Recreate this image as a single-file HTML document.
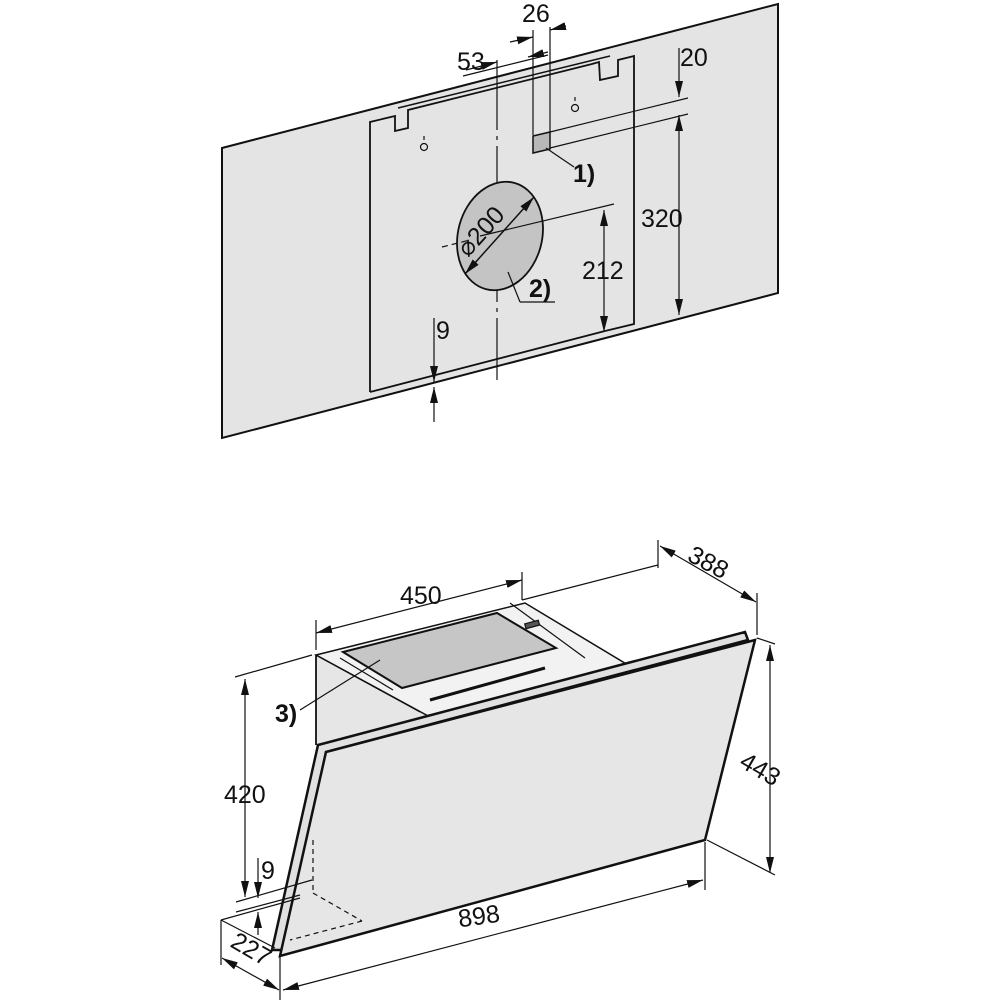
<!DOCTYPE html>
<html><head><style>html,body{margin:0;padding:0;background:#fff}svg{display:block}text{font-family:"Liberation Sans",sans-serif;fill:#111}</style></head>
<body>
<svg width="1000" height="1000" viewBox="0 0 1000 1000" xmlns="http://www.w3.org/2000/svg">
<defs>
<marker id="a" viewBox="0 0 16 10" refX="16" refY="5" markerWidth="16" markerHeight="10" orient="auto-start-reverse" markerUnits="userSpaceOnUse"><path d="M0,1 L16,5 L0,9z" fill="#111"/></marker>
</defs>
<g stroke="#111" fill="none" stroke-width="1.2">
<polygon points="222,148 778,4 778,293 222,438" fill="#e4e4e4" stroke-width="2"/>
<polyline points="370,392 370,122 395,116 395,131 408,128 408,110 592,64 599,62 600,80 618,76 618,60 634,56 634,324 605,331" stroke-width="1.8"/>
<line x1="370" y1="392" x2="605" y2="331" stroke-width="1.8"/>
<line x1="398" y1="108" x2="610" y2="56" stroke-width="1.5"/>
<circle cx="424" cy="147" r="3.5"/><line x1="424" y1="140" x2="424" y2="136"/>
<circle cx="575" cy="108" r="3.5"/><line x1="575" y1="101" x2="575" y2="97"/>
<line x1="497" y1="60" x2="497" y2="380" stroke-dasharray="70,6,4,6"/>
<line x1="463" y1="76" x2="548" y2="55"/>
<line x1="466" y1="70" x2="497" y2="62" marker-end="url(#a)"/>
<line x1="548" y1="52" x2="528" y2="57" marker-end="url(#a)"/>
<line x1="533" y1="30" x2="533" y2="135"/>
<line x1="550" y1="27" x2="550" y2="132"/>
<line x1="510" y1="42" x2="533" y2="37" marker-end="url(#a)"/>
<line x1="566" y1="26" x2="550" y2="30" marker-end="url(#a)"/>
<polygon points="533,136 550,132 550,149 533,153" fill="#b8b8b8" stroke-width="1.5"/>
<line x1="550" y1="132" x2="688" y2="98"/>
<line x1="550" y1="148" x2="688" y2="114"/>
<line x1="546" y1="148" x2="574" y2="167"/>
<line x1="679" y1="48" x2="679" y2="97" marker-end="url(#a)"/>
<line x1="679" y1="115" x2="679" y2="315" marker-start="url(#a)" marker-end="url(#a)"/>
<ellipse cx="500" cy="236" rx="42" ry="55" transform="rotate(15 500 236)" fill="#c4c4c4" stroke-width="1.8"/>
<line x1="465" y1="274" x2="534" y2="197" marker-start="url(#a)" marker-end="url(#a)" stroke-width="1.5"/>
<line x1="442" y1="247" x2="470" y2="240" stroke-dasharray="6,4"/>
<line x1="480" y1="236" x2="614" y2="204"/>
<line x1="508" y1="272" x2="520" y2="302"/><line x1="520" y1="302" x2="555" y2="302"/>
<line x1="604" y1="210" x2="604" y2="332" marker-start="url(#a)" marker-end="url(#a)"/>
<line x1="434" y1="318" x2="434" y2="382" marker-end="url(#a)"/>
<line x1="434" y1="422" x2="434" y2="387" marker-end="url(#a)"/>

<polygon points="316,655 430,718 430,760 316,790" fill="#e6e6e6" stroke="none"/>
<line x1="316" y1="655" x2="316" y2="745" stroke-width="1.8"/>
<polygon points="316,655 525,603 628,665 430,717" fill="#f2f2f2" stroke-width="1.5"/>
<line x1="316" y1="655" x2="420" y2="712"/>
<polygon points="343,652 497,613 556,648 402,688" fill="#c6c6c6" stroke-width="2"/>
<line x1="430" y1="700" x2="545" y2="668" stroke-width="3"/>
<line x1="510" y1="603" x2="585" y2="658"/>
<rect x="525" y="622" width="14" height="5" fill="#555" transform="rotate(-15 532 624)"/>
<line x1="340" y1="658" x2="393" y2="690"/>
<polygon points="318,745 745,632 748,640 326,752 285,950 272,950" fill="#e0e0e0" stroke-width="2.5"/>
<polygon points="326,752 755,640 705,840 280,956" fill="#e6e6e6" stroke-width="2.5"/>
<line x1="313" y1="840" x2="313" y2="893" stroke-dasharray="5,4"/>
<line x1="313" y1="893" x2="362" y2="921" stroke-dasharray="5,4"/>
<line x1="362" y1="921" x2="290" y2="940" stroke-dasharray="5,4"/>
<line x1="316" y1="620" x2="316" y2="650"/>
<line x1="522" y1="572" x2="522" y2="600"/>
<line x1="316" y1="633" x2="522" y2="580" marker-start="url(#a)" marker-end="url(#a)"/>
<line x1="522" y1="600" x2="658" y2="565"/>
<line x1="658" y1="540" x2="658" y2="568"/>
<line x1="757" y1="593" x2="757" y2="635"/>
<line x1="660" y1="546" x2="756" y2="602" marker-start="url(#a)" marker-end="url(#a)"/>
<line x1="757" y1="638" x2="775" y2="644"/>
<line x1="707" y1="840" x2="775" y2="875"/>
<line x1="770" y1="645" x2="770" y2="873" marker-start="url(#a)" marker-end="url(#a)"/>
<line x1="235" y1="677" x2="312" y2="655"/>
<line x1="245" y1="679" x2="245" y2="897" marker-start="url(#a)" marker-end="url(#a)"/>
<line x1="236" y1="902" x2="312" y2="880"/>
<line x1="236" y1="912" x2="300" y2="895"/>
<line x1="258" y1="858" x2="258" y2="898" marker-end="url(#a)"/>
<line x1="258" y1="935" x2="258" y2="912" marker-end="url(#a)"/>
<line x1="221" y1="920" x2="300" y2="898"/>
<line x1="221" y1="920" x2="275" y2="948"/>
<line x1="221" y1="920" x2="221" y2="965"/>
<line x1="280" y1="955" x2="280" y2="1000"/>
<line x1="222" y1="958" x2="279" y2="990" marker-start="url(#a)" marker-end="url(#a)"/>
<line x1="705" y1="842" x2="705" y2="890"/>
<line x1="283" y1="990" x2="703" y2="880" marker-start="url(#a)" marker-end="url(#a)"/>
<line x1="300" y1="710" x2="380" y2="660"/>
</g>
<g font-size="25">
<text x="457" y="70">53</text>
<text x="522" y="22">26</text>
<text x="680" y="66">20</text>
<text x="641" y="227">320</text>
<text x="582" y="279">212</text>
<text x="436" y="339">9</text>
<text x="573" y="182" font-weight="bold" font-size="25">1)</text>
<text x="529" y="297" font-weight="bold" font-size="25">2)</text>
<text transform="translate(468,258) rotate(-48)">⌀200</text>
<text x="400" y="604">450</text>
<text transform="translate(686,560) rotate(28)">388</text>
<text transform="translate(738,766) rotate(30)">443</text>
<text x="224" y="803">420</text>
<text x="261" y="879">9</text>
<text x="458" y="923" transform="rotate(-8 490 915)">898</text>
<text transform="translate(229,946) rotate(30)">227</text>
<text x="275" y="722" font-weight="bold" font-size="25">3)</text>
</g>
</svg>
</body></html>
